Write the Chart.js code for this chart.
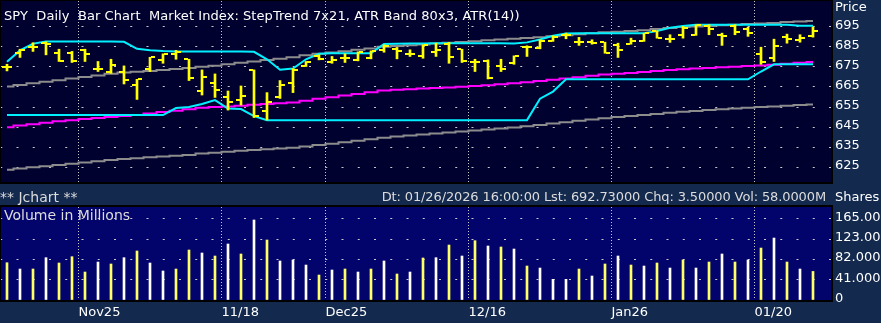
<!DOCTYPE html>
<html lang="en">
<head>
<meta charset="UTF-8">
<title>SPY Daily Bar Chart</title>
<script src="https://cdn.jsdelivr.net/npm/chart.js@4"></script>
<style>
    body {
        margin: 0;
        width: 881px;
        height: 323px;
        overflow: hidden;
        position: relative;
        background-color: #13294e;
        font-family: "DejaVu Sans", sans-serif;
    }
    .box { position: absolute; left: 0; width: 881px; }
    #priceBox { top: 0; height: 184px; }
    #volBox { top: 184px; height: 139px; }
    .txt {
        position: absolute;
        white-space: nowrap;
        font-size: 13px;
        line-height: 16px;
        color: #dcdcdc;
    }
    #title { left: 4px; top: 8px; color: #fff; letter-spacing: 0.065px; }
    #priceLbl { left: 835px; top: -1px; color: #fff; }
    #jchart { left: 0; top: 189px; font-size: 14px; }
    #info { right: 55px; top: 189px; letter-spacing: -0.12px; }
    #sharesLbl { left: 835px; top: 189px; color: #fff; }
    #volLbl { left: 4px; top: 207px; font-size: 14px; }
</style>
</head>
<body>

<div class="box" id="priceBox"><canvas id="price"></canvas></div>
<div class="box" id="volBox"><canvas id="vol"></canvas></div>

<div class="txt" id="title">SPY&nbsp; Daily&nbsp; Bar Chart&nbsp; Market Index: StepTrend 7x21, ATR Band 80x3, ATR(14))</div>
<div class="txt" id="priceLbl">Price</div>
<div class="txt" id="jchart">** Jchart **</div>
<div class="txt" id="info">Dt: 01/26/2026 16:00:00 Lst: 692.73000 Chq: 3.50000 Vol: 58.0000M</div>
<div class="txt" id="sharesLbl">Shares</div>
<div class="txt" id="volLbl">Volume in Millions</div>

<script>
    // trading days, 10/24/2025 .. 01/26/2026
    const dates = ['10/24','10/27','10/28','10/29','10/30','10/31','11/03','11/04','11/05','11/06',
        '11/07','11/10','11/11','11/12','11/13','11/14','11/17','11/18','11/19','11/20',
        '11/21','11/24','11/25','11/26','11/28','12/01','12/02','12/03','12/04','12/05',
        '12/08','12/09','12/10','12/11','12/12','12/15','12/16','12/17','12/18','12/19',
        '12/22','12/23','12/24','12/26','12/29','12/30','12/31','01/02','01/05','01/06',
        '01/07','01/08','01/09','01/12','01/13','01/14','01/15','01/16','01/20','01/21',
        '01/22','01/23','01/26'];

    const open = [675,682,685,687,681.8,682,683.5,674,672.7,672.7,
        666,674,678.5,681.3,678.7,663,667.2,659.8,658.5,673.5,
        653,659.8,667.2,675.5,680.2,677.2,679.3,678.3,679.3,683.5,
        684,681.3,680.2,682.5,686.5,683.7,677.3,678,675.2,676.8,
        684.8,684.5,688,691,687.3,687.3,687.3,686,686.3,687.7,
        692.7,689,691,690.7,695.5,691,695.2,693.8,681.3,679.3,
        689.8,688.5,690.5];
    const high = [676.3,683.8,687,687.5,683.8,682.7,683.8,677.7,678.8,675.5,
        668.8,679.8,681.5,683.2,678.8,673.5,671.5,663,665.5,673.5,
        662.2,668.2,674.2,677.7,681,680.2,681.5,682.5,683,686,
        684.7,683.5,686,686.8,687.2,683.8,678.8,678.5,678.8,680.5,
        685.5,688.5,690.5,691.8,689.7,688.5,687.3,686.8,689.3,691.8,
        693,691,695.2,696,696,691.8,696,694.8,684.8,688.8,
        691.3,691,694.8];
    const low = [673,679.7,682.7,681,677.7,677.2,677.7,672.7,671.8,666.5,
        658.8,672.7,676.8,678.8,668.2,661,659.8,653.5,656,649.8,
        648.6,659.3,662.2,675.2,678.5,676.8,677.2,678,679,682.3,
        679,680.2,679.3,680.2,676.8,677.2,672.7,669,672.7,676.3,
        680.2,684,687.7,689,685.7,686.3,681.8,679.7,686.3,687.7,
        689.3,687.2,689.3,690.7,691,685.7,691,690.2,676.3,677.7,
        686.8,687.3,689.8];
    const close = [675,683.5,684.7,686.5,677.8,678,681.3,674,675.7,668.5,
        668.8,679.8,681.3,682.3,669.7,669.8,663.5,657.7,660.5,650.5,
        657.5,666,673.5,677.3,679,678.5,679.3,682.2,682.7,685.5,
        682.7,681.3,686,683.5,679.8,677.7,677.3,669.3,674,680.5,
        684.8,688,690,691,687.3,687,681.8,683.5,687.7,691.8,
        689.3,689,694.3,695.7,693.8,690.5,692.2,691.8,677.2,685.5,
        688.8,689.23,692.73];

    // StepTrend 7x21 (cyan)
    const stepUpper = [677.5,683.2,686.5,687.7,687.7,687.7,687.7,687.7,687.7,687.5,
        684,683.3,682.9,682.7,682.7,682.7,682.7,682.7,682.7,682.5,
        678.8,673.6,674.2,678.8,681.5,681.8,681.8,681.8,681.8,686.4,
        686.5,686.6,686.7,686.8,686.8,686.8,686.8,686.8,686.8,686.6,
        687.2,688.6,690.5,691.6,691.8,691.8,691.8,691.8,691.8,691.8,
        692.8,694.5,695.3,696,696,696,696,696,696,696,
        696,695.5,695.5];
    const stepLower = [651,651,651,651,651,651,651,651,651,651,
        651,651,651,654.5,655,656.5,658.5,654.3,654,650.5,
        648.5,648.5,648.5,648.5,648.5,648.5,648.5,648.5,648.5,648.5,
        648.5,648.5,648.5,648.5,648.5,648.5,648.5,648.5,648.5,648.5,
        648.5,659.2,662.7,668.8,668.8,668.8,668.8,668.8,668.8,668.8,
        668.8,668.8,668.8,668.8,668.8,668.8,668.8,668.8,672.7,676.3,
        676.3,676.3,676.3];

    // ATR Band 80x3
    const bandMid = [645,645.8,646.5,647.2,647.9,648.5,649,649.5,650,650.6,
        651.1,651.8,652.5,653.2,653.9,654.7,655,655.3,655.7,656.1,
        656.5,656.9,657.3,658.1,659.1,659.9,660.7,661.5,662.4,663.3,
        663.6,663.9,664.2,664.5,664.8,665.1,665.5,665.9,666.3,666.8,
        667.4,668,668.6,669.2,669.8,670.6,671.2,671.6,672,672.5,
        672.9,673.4,673.8,674.2,674.5,674.8,675.1,675.4,675.7,676.1,
        676.6,677,677.4];
    const bandUpper = [665.2,666,666.8,667.6,668.4,669.2,670,670.7,671.6,672.2,
        672.6,673,673.5,674,674.4,675.1,675.6,676.3,677,677.7,
        678.4,679.1,679.8,680.8,681.6,682.2,682.8,683.5,684.2,685,
        685.4,685.8,686.2,686.6,687,687.4,687.8,688.2,688.6,689,
        689.4,689.8,690.3,690.8,691.3,691.8,692.2,692.5,692.9,693.3,
        693.8,694.3,694.8,695.1,695.4,695.7,696,696.3,696.6,696.9,
        697.3,697.6,697.9];
    const bandLower = [623.8,624.4,625,625.6,626.2,626.8,627.4,628,628.6,629.1,
        629.5,630,630.4,630.8,631.2,631.9,632.3,632.8,633.2,633.6,
        634,634.4,634.8,635.4,636.1,636.7,637.5,638.2,639,639.7,
        640.4,640.9,641.4,641.9,642.3,642.8,643.3,643.8,644.3,644.8,
        645.4,646.1,646.8,647.5,648.2,648.8,649.4,650,650.5,651.1,
        651.6,652.2,652.7,653.1,653.5,653.9,654.3,654.7,655,655.3,
        655.7,656,656.3];

    // volume, millions of shares
    const volume = [75.7,62.9,62.9,85.9,75.1,87.9,56.8,77.1,73.1,85.9,
        99.5,75.1,58.9,62.9,101.5,95.4,89.3,113.7,93.4,162.4,
        121.8,79.2,81.2,71,50.7,60.9,62.9,56.8,62.9,79.2,
        52.8,56.8,85.3,85.9,111.6,89.3,120.4,109.6,107.6,103.5,
        69,64.9,42,42,62.9,48.7,73.1,89.3,71,69,
        75.1,64.9,81.2,64.9,77.1,93.4,77.1,81.2,105.5,125.8,
        77.1,62.9,58];
    const volTone = ['Y','W','Y','W','Y','Y','Y','W','Y','W',
        'Y','W','W','Y','Y','W','Y','W','Y','W',
        'Y','W','W','W','Y','W','Y','W','Y','W',
        'Y','W','Y','W','Y','W','Y','W','Y','W',
        'Y','W','W','W','Y','W','Y','W','Y','W',
        'Y','W','Y','W','Y','W','Y','W','Y','W',
        'Y','W','Y'];

    const markerIdx = [6, 17, 25, 36, 47, 58];
    const markerText = ['Nov25', '11/18', 'Dec25', '12/16', 'Jan26', '01/20'];
    const priceTicks = [625, 635, 645, 655, 665, 675, 685, 695];
    const volTicks = [0, 41, 82, 123, 165];

    const FONT = { family: 'DejaVu Sans', size: 13 };
    const X_MIN = -6 / 13;
    const X_MAX = X_MIN + 830 / 13;

    const pts = arr => arr.map((v, i) => ({ x: i, y: v }));

    // open tick on the left, close tick on the right
    function tickImage(side) {
        const c = document.createElement('canvas');
        c.width = 10;
        c.height = 2;
        const g = c.getContext('2d');
        g.fillStyle = '#ffff00';
        g.fillRect(side === 'open' ? 0 : 6, 0, 4, 2);
        return c;
    }

    const panel = {
        id: 'panel',
        beforeDraw(chart, args, opts) {
            const { ctx, chartArea: a } = chart;
            ctx.save();
            ctx.fillStyle = opts.color;
            ctx.fillRect(a.left, a.top, a.right - a.left, a.bottom - a.top);
            ctx.restore();
        },
        beforeDatasetsDraw(chart) {
            chart.ctx.imageSmoothingEnabled = false;
        },
        afterDraw(chart) {
            const { ctx, chartArea: a } = chart;
            ctx.save();
            ctx.strokeStyle = '#000';
            ctx.lineWidth = 2;
            ctx.strokeRect(a.left - 1, a.top - 1, a.right - a.left + 2, a.bottom - a.top + 2);
            ctx.restore();
        }
    };

    function xScale(showLabels) {
        return {
            type: 'linear',
            offset: false,
            min: X_MIN,
            max: X_MAX,
            afterBuildTicks: s => { s.ticks = markerIdx.map(i => ({ value: i - 0.5 })); },
            afterFit: s => {
                s.height = showLabels ? 23 : 0;
                s.paddingLeft = 0;
                s.paddingRight = 0;
            },
            ticks: {
                display: showLabels,
                align: 'start',
                color: '#fff',
                font: FONT,
                padding: 5,
                maxRotation: 0,
                autoSkip: false,
                callback: v => markerText[markerIdx.indexOf(Math.round(v + 0.5))]
            },
            grid: { color: '#c8c8c8', drawTicks: false, lineWidth: 1, offset: false },
            border: { display: false, dash: [1, 2] }
        };
    }

    function yScale(min, max, values, label) {
        return {
            position: 'right',
            min: min,
            max: max,
            afterBuildTicks: s => { s.ticks = values.map(v => ({ value: v })); },
            afterFit: s => {
                s.width = 50;
                s.paddingTop = 0;
                s.paddingBottom = 0;
            },
            ticks: { color: '#fff', font: FONT, padding: 4, labelOffset: -1.5, callback: label },
            grid: { color: '#c8c8c8', drawTicks: false, lineWidth: 1 },
            border: { display: false, dash: [2, 14.25], dashOffset: 0.75 }
        };
    }

    Chart.defaults.animation = false;
    Chart.defaults.plugins.legend.display = false;
    Chart.defaults.plugins.tooltip.enabled = false;

    function line(data, color, stepped, order) {
        return {
            type: 'line', data: pts(data), borderColor: color, borderWidth: 2,
            pointRadius: 0, stepped: stepped, order: order
        };
    }

    new Chart(document.getElementById('price'), {
        type: 'bar',
        data: {
            datasets: [
                line(bandUpper, '#8c8c8c', 'middle', 6),
                line(bandLower, '#8c8c8c', 'middle', 6),
                line(bandMid, '#ff00ff', 'middle', 5),
                line(stepUpper, '#00f0ff', false, 4),
                line(stepLower, '#00f0ff', false, 4),
                {
                    type: 'bar',
                    data: high.map((h, i) => ({ x: i, y: [low[i], h] })),
                    backgroundColor: '#ffff00',
                    barThickness: 2,
                    grouped: false,
                    order: 2
                },
                {
                    type: 'line', showLine: false, data: pts(open),
                    pointStyle: tickImage('open'), pointRadius: 3, order: 1
                },
                {
                    type: 'line', showLine: false, data: pts(close),
                    pointStyle: tickImage('close'), pointRadius: 3, order: 1
                }
            ]
        },
        options: {
            responsive: true,
            maintainAspectRatio: false,
            layout: { autoPadding: false, padding: { top: 1, left: 1, bottom: 2, right: 0 } },
            scales: {
                x: xScale(false),
                y: yScale(617.7, 707.8, priceTicks, v => v)
            },
            plugins: { panel: { color: '#010130' } }
        },
        plugins: [panel]
    });

    new Chart(document.getElementById('vol'), {
        type: 'bar',
        data: {
            datasets: [{
                data: pts(volume),
                backgroundColor: volTone.map(t => t === 'Y' ? '#ffff66' : '#ffffff'),
                barThickness: 2,
                grouped: false
            }]
        },
        options: {
            responsive: true,
            maintainAspectRatio: false,
            layout: { autoPadding: false, padding: { top: 23, left: 1, bottom: 0, right: 0 } },
            scales: {
                x: xScale(true),
                y: yScale(0, 188.8, volTicks, v => v === 0 ? '0' : v.toFixed(4) + 'M')
            },
            plugins: { panel: { color: '#03036c' } }
        },
        plugins: [panel]
    });
</script>

</body>
</html>
